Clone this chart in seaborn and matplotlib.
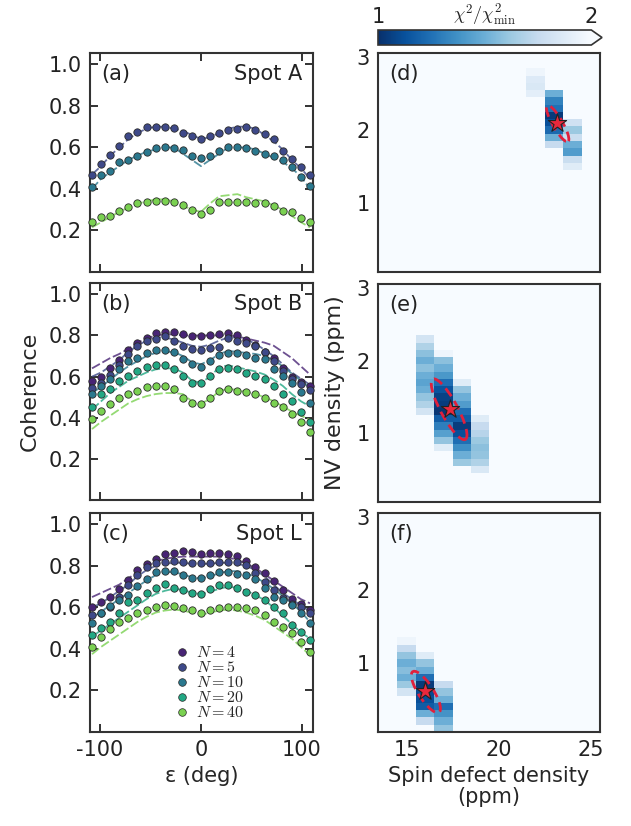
import numpy as np
import pandas as pd
import matplotlib
import matplotlib.pyplot as plt
import matplotlib.transforms as transforms
from matplotlib.patches import Ellipse
from matplotlib.lines import Line2D
import seaborn as sns

# ---- datos: coherencia vs angulo ----
eps = [-108, -99, -90, -81, -72, -63, -54, -45, -36, -27, -18, -9, 0,
       9, 18, 27, 36, 45, 54, 63, 72, 81, 90, 99, 108]
n_labels = [4, 5, 10, 20, 40]

# Spot A (N=5, 10, 40)
a_n5_pts = [0.469, 0.52, 0.563, 0.605, 0.656, 0.675, 0.699, 0.699, 0.699, 0.693, 0.672, 0.656, 0.643,
            0.656, 0.672, 0.685, 0.688, 0.70, 0.685, 0.667, 0.64, 0.582, 0.544, 0.507, 0.467]
a_n5_fit = [0.47, 0.51, 0.56, 0.60, 0.64, 0.67, 0.69, 0.70, 0.70, 0.69, 0.68, 0.66, 0.64,
            0.65, 0.67, 0.69, 0.70, 0.70, 0.69, 0.66, 0.63, 0.59, 0.54, 0.50, 0.45]
a_n10_pts = [0.408, 0.467, 0.485, 0.531, 0.541, 0.56, 0.579, 0.597, 0.60, 0.597, 0.589, 0.557, 0.547,
             0.56, 0.584, 0.60, 0.603, 0.597, 0.581, 0.568, 0.557, 0.541, 0.504, 0.459, 0.416]
a_n10_fit = [0.40, 0.45, 0.48, 0.51, 0.54, 0.56, 0.58, 0.59, 0.60, 0.60, 0.57, 0.54, 0.51,
             0.54, 0.57, 0.60, 0.60, 0.60, 0.59, 0.57, 0.55, 0.53, 0.50, 0.46, 0.40]
a_n40_pts = [0.243, 0.264, 0.272, 0.296, 0.315, 0.331, 0.339, 0.344, 0.341, 0.336, 0.325, 0.299, 0.28,
             0.30, 0.336, 0.339, 0.336, 0.336, 0.333, 0.333, 0.32, 0.296, 0.288, 0.259, 0.24]
a_n40_fit = [0.215, 0.24, 0.265, 0.29, 0.31, 0.33, 0.34, 0.35, 0.35, 0.34, 0.32, 0.30, 0.29,
             0.33, 0.365, 0.37, 0.375, 0.36, 0.35, 0.34, 0.32, 0.30, 0.27, 0.24, 0.215]

# Spot B
b_n4_pts = [0.58, 0.60, 0.64, 0.68, 0.73, 0.765, 0.79, 0.81, 0.815, 0.815, 0.805, 0.797, 0.797,
            0.80, 0.805, 0.81, 0.80, 0.78, 0.755, 0.72, 0.69, 0.64, 0.60, 0.575, 0.555]
b_n4_fit = [0.64, 0.665, 0.69, 0.71, 0.735, 0.765, 0.785, 0.80, 0.805, 0.805, 0.80, 0.80, 0.80,
            0.80, 0.80, 0.80, 0.795, 0.785, 0.775, 0.765, 0.75, 0.72, 0.69, 0.65, 0.61]
b_n5_pts = [0.545, 0.57, 0.61, 0.655, 0.71, 0.75, 0.775, 0.785, 0.795, 0.775, 0.75, 0.735, 0.73,
            0.74, 0.745, 0.79, 0.775, 0.765, 0.75, 0.72, 0.675, 0.625, 0.59, 0.565, 0.535]
b_n5_fit = [0.60, 0.62, 0.65, 0.68, 0.72, 0.75, 0.775, 0.79, 0.79, 0.78, 0.765, 0.75, 0.745,
            0.755, 0.775, 0.79, 0.79, 0.78, 0.76, 0.73, 0.70, 0.66, 0.62, 0.59, 0.56]
b_n10_pts = [0.515, 0.555, 0.587, 0.636, 0.676, 0.692, 0.713, 0.727, 0.729, 0.719, 0.684, 0.66, 0.648,
             0.676, 0.703, 0.716, 0.713, 0.703, 0.692, 0.684, 0.636, 0.603, 0.571, 0.523, 0.474]
b_n10_fit = [0.52, 0.55, 0.585, 0.62, 0.65, 0.675, 0.70, 0.715, 0.72, 0.72, 0.70, 0.67, 0.66,
             0.68, 0.71, 0.725, 0.72, 0.715, 0.71, 0.70, 0.68, 0.65, 0.615, 0.58, 0.545]
b_n20_pts = [0.45, 0.515, 0.539, 0.579, 0.603, 0.627, 0.648, 0.655, 0.655, 0.639, 0.603, 0.568, 0.571,
             0.603, 0.636, 0.644, 0.636, 0.619, 0.603, 0.587, 0.555, 0.515, 0.482, 0.426, 0.377]
b_n20_fit = [0.44, 0.48, 0.52, 0.55, 0.58, 0.60, 0.62, 0.635, 0.64, 0.64, 0.62, 0.58, 0.57,
             0.60, 0.645, 0.655, 0.645, 0.635, 0.625, 0.61, 0.585, 0.555, 0.515, 0.48, 0.455]
b_n40_pts = [0.394, 0.434, 0.466, 0.498, 0.515, 0.531, 0.547, 0.555, 0.555, 0.539, 0.498, 0.474, 0.466,
             0.498, 0.531, 0.539, 0.531, 0.523, 0.515, 0.498, 0.474, 0.45, 0.418, 0.377, 0.329]
b_n40_fit = [0.345, 0.38, 0.41, 0.44, 0.47, 0.49, 0.505, 0.515, 0.52, 0.52, 0.515, 0.48, 0.47,
             0.49, 0.53, 0.54, 0.535, 0.525, 0.515, 0.50, 0.48, 0.455, 0.43, 0.41, 0.39]

# Spot L
c_n4_pts = [0.603, 0.627, 0.651, 0.691, 0.731, 0.779, 0.811, 0.835, 0.859, 0.864, 0.870, 0.867, 0.859,
            0.864, 0.864, 0.856, 0.850, 0.824, 0.795, 0.766, 0.726, 0.683, 0.643, 0.616, 0.590]
c_n4_fit = [0.65, 0.67, 0.69, 0.71, 0.74, 0.77, 0.80, 0.82, 0.835, 0.84, 0.845, 0.845, 0.845,
            0.845, 0.845, 0.84, 0.83, 0.81, 0.79, 0.76, 0.73, 0.70, 0.67, 0.64, 0.62]
c_n5_pts = [0.563, 0.574, 0.603, 0.651, 0.707, 0.755, 0.795, 0.816, 0.819, 0.822, 0.819, 0.816, 0.814,
            0.816, 0.819, 0.819, 0.819, 0.803, 0.766, 0.723, 0.683, 0.646, 0.616, 0.603, 0.571]
c_n5_fit = [0.60, 0.62, 0.65, 0.68, 0.71, 0.75, 0.78, 0.80, 0.81, 0.815, 0.815, 0.81, 0.81,
            0.81, 0.815, 0.815, 0.81, 0.80, 0.78, 0.75, 0.71, 0.67, 0.64, 0.61, 0.58]
c_n10_pts = [0.523, 0.571, 0.606, 0.635, 0.659, 0.704, 0.736, 0.771, 0.776, 0.774, 0.755, 0.744, 0.742,
             0.755, 0.771, 0.771, 0.763, 0.755, 0.739, 0.694, 0.651, 0.635, 0.611, 0.571, 0.526]
c_n10_fit = [0.55, 0.58, 0.61, 0.64, 0.67, 0.70, 0.73, 0.755, 0.77, 0.77, 0.76, 0.745, 0.74,
             0.75, 0.765, 0.775, 0.775, 0.765, 0.745, 0.72, 0.69, 0.655, 0.62, 0.58, 0.53]
c_n20_pts = [0.467, 0.499, 0.531, 0.571, 0.627, 0.635, 0.672, 0.696, 0.712, 0.696, 0.683, 0.670, 0.667,
             0.691, 0.707, 0.707, 0.696, 0.675, 0.659, 0.638, 0.603, 0.571, 0.515, 0.483, 0.443]
c_n20_fit = [0.46, 0.49, 0.52, 0.55, 0.58, 0.61, 0.64, 0.665, 0.68, 0.69, 0.685, 0.67, 0.665,
             0.675, 0.69, 0.70, 0.695, 0.68, 0.66, 0.635, 0.60, 0.56, 0.52, 0.48, 0.45]
c_n40_pts = [0.411, 0.459, 0.494, 0.531, 0.547, 0.574, 0.587, 0.603, 0.611, 0.606, 0.595, 0.587, 0.571,
             0.587, 0.595, 0.603, 0.600, 0.595, 0.587, 0.563, 0.531, 0.507, 0.475, 0.435, 0.387]
c_n40_fit = [0.375, 0.41, 0.44, 0.47, 0.50, 0.53, 0.555, 0.575, 0.585, 0.59, 0.585, 0.575, 0.565,
             0.575, 0.585, 0.59, 0.585, 0.575, 0.56, 0.54, 0.51, 0.48, 0.45, 0.41, 0.37]

# ---- datos: mapas chi^2 (celdas no saturadas) ----
grid_x = [14, 15, 16, 17, 18, 19, 20, 21, 22, 23, 24, 25]
grid_y = [0.1, 0.2, 0.3, 0.4, 0.5, 0.6, 0.7, 0.8, 0.9, 1.0, 1.1, 1.2, 1.3, 1.4, 1.5,
          1.6, 1.7, 1.8, 1.9, 2.0, 2.1, 2.2, 2.3, 2.4, 2.5, 2.6, 2.7, 2.8, 2.9, 3.0]

d_x = [22, 22, 22, 22,
       23, 23, 23, 23, 23, 23, 23, 23,
       24, 24, 24, 24, 24, 24, 24]
d_y = [2.8, 2.7, 2.6, 2.5,
       2.5, 2.4, 2.3, 2.2, 2.1, 2.0, 1.9, 1.8,
       2.1, 2.0, 1.9, 1.8, 1.7, 1.6, 1.5]
d_val = [1.95, 1.87, 1.85, 1.9,
         1.5, 1.32, 1.25, 1.04, 1.12, 1.22, 1.5, 1.75,
         1.8, 1.62, 1.77, 1.5, 1.42, 1.77, 1.88]

e_x = [16] * 11 + [17] * 14 + [18] * 12 + [19] * 8
e_y = [2.3, 2.2, 2.1, 2.0, 1.9, 1.8, 1.7, 1.6, 1.5, 1.4, 1.3,
       2.1, 2.0, 1.9, 1.8, 1.7, 1.6, 1.5, 1.4, 1.3, 1.2, 1.1, 1.0, 0.9, 0.8,
       1.7, 1.6, 1.5, 1.4, 1.3, 1.2, 1.1, 1.0, 0.9, 0.8, 0.7, 0.6,
       1.2, 1.1, 1.0, 0.9, 0.8, 0.7, 0.6, 0.5]
e_val = [1.82, 1.68, 1.58, 1.5, 1.58, 1.5, 1.45, 1.5, 1.6, 1.68, 1.82,
         1.95, 1.58, 1.5, 1.4, 1.24, 1.14, 1.07, 1.05, 1.02, 1.17, 1.3, 1.44, 1.6, 1.88,
         1.88, 1.6, 1.5, 1.42, 1.24, 1.17, 1.05, 1.12, 1.24, 1.36, 1.5, 1.62,
         1.88, 1.75, 1.7, 1.62, 1.58, 1.6, 1.68, 1.85]

f_x = [15] * 8 + [16] * 10 + [17] * 7
f_y = [1.3, 1.2, 1.1, 1.0, 0.9, 0.8, 0.7, 0.6,
       1.1, 1.0, 0.9, 0.8, 0.7, 0.6, 0.5, 0.4, 0.3, 0.2,
       0.7, 0.6, 0.5, 0.4, 0.3, 0.2, 0.1]
f_val = [1.95, 1.75, 1.6, 1.5, 1.57, 1.5, 1.62, 1.82,
         1.88, 1.6, 1.5, 1.24, 1.04, 1.1, 1.12, 1.17, 1.5, 1.75,
         1.75, 1.6, 1.5, 1.24, 1.38, 1.5, 1.6]

# mejor ajuste (estrella) y elipse de confianza: centro, sigma_x, sigma_y, rho
best_x = [23.14, 17.34, 16.02]
best_y = [2.10, 1.34, 0.61]
ell_cx = [23.2, 17.31, 16.05]
ell_cy = [2.09, 1.33, 0.60]
ell_sx = [0.61, 0.97, 0.79]
ell_sy = [0.25, 0.42, 0.285]
ell_rho = [-0.86, -0.845, -0.8]

# ---- estilo ----
sns.set_theme(style='ticks')
plt.rcParams['font.family'] = ['DejaVu Sans']
plt.rcParams['mathtext.fontset'] = 'cm'
plt.rcParams['axes.edgecolor'] = '#333333'
plt.rcParams['axes.linewidth'] = 1.5

pal = sns.color_palette('viridis', as_cmap=True)
colores = {n: pal(v) for n, v in zip(n_labels, [0.1, 0.22, 0.4, 0.6, 0.8])}

W, H = 631, 826
fig = plt.figure(figsize=(W / 100, H / 100), dpi=100)


def caja(x0, y0, x1, y1):
    return [x0 / W, 1 - y1 / H, (x1 - x0) / W, (y1 - y0) / H]


ax_a = fig.add_axes(caja(90, 53, 313, 272))
ax_b = fig.add_axes(caja(90, 283, 313, 500))
ax_c = fig.add_axes(caja(90, 513, 313, 732))
ax_d = fig.add_axes(caja(378, 53, 600, 272))
ax_e = fig.add_axes(caja(378, 284, 600, 502))
ax_f = fig.add_axes(caja(378, 513, 600, 732))
cax = fig.add_axes(caja(378, 30, 602, 45))


def estilo_ejes(ax):
    ax.tick_params(direction='in', top=True, right=True, length=6, width=1.3,
                   labelsize=15, pad=6, colors='#222222')
    for s in ax.spines.values():
        s.set_visible(True)
        s.set_color('#333333')
        s.set_linewidth(1.5)


def dibujar_spot(ax, series, letra, nombre):
    for n, pts, fit in series:
        col = colores[n]
        sns.lineplot(x=eps, y=fit, ax=ax, color=col, alpha=0.8, lw=1.3,
                     linestyle=(0, (5, 1.6)), legend=False)
        sns.scatterplot(x=eps, y=pts, ax=ax, color=col, s=28, edgecolor='#2a2a2a',
                        linewidth=0.6, legend=False, zorder=3, clip_on=False)
    ax.set_xlim(-110, 111)
    ax.set_ylim(0, 1.055)
    ax.set_xticks([-100, 0, 100])
    ax.set_yticks([0.2, 0.4, 0.6, 0.8, 1.0])
    ax.set_yticklabels(['0.2', '0.4', '0.6', '0.8', '1.0'])
    estilo_ejes(ax)
    ax.text(0.05, 0.95, letra, transform=ax.transAxes, fontsize=15, va='top', ha='left', color='#222222')
    ax.text(0.95, 0.95, nombre, transform=ax.transAxes, fontsize=15, va='top', ha='right', color='#222222')


dibujar_spot(ax_a, [(5, a_n5_pts, a_n5_fit), (10, a_n10_pts, a_n10_fit), (40, a_n40_pts, a_n40_fit)],
             '(a)', 'Spot A')
dibujar_spot(ax_b, [(4, b_n4_pts, b_n4_fit), (5, b_n5_pts, b_n5_fit), (10, b_n10_pts, b_n10_fit),
                    (20, b_n20_pts, b_n20_fit), (40, b_n40_pts, b_n40_fit)], '(b)', 'Spot B')
dibujar_spot(ax_c, [(4, c_n4_pts, c_n4_fit), (5, c_n5_pts, c_n5_fit), (10, c_n10_pts, c_n10_fit),
                    (20, c_n20_pts, c_n20_fit), (40, c_n40_pts, c_n40_fit)], '(c)', 'Spot L')
ax_a.set_xticklabels([])
ax_b.set_xticklabels([])
ax_b.set_ylabel('Coherence', fontsize=16, labelpad=6)
ax_c.set_xticklabels(['-100', '0', '100'])
ax_c.set_xlabel('ε (deg)', fontsize=15, labelpad=4)

handles = [Line2D([], [], ls='', marker='o', ms=5.5, color=colores[n], mec='#2a2a2a', mew=0.5)
           for n in n_labels]
ax_c.legend(handles, [f'$N = {n}$' for n in n_labels], loc='center', bbox_to_anchor=(0.53, 0.225),
            frameon=False, fontsize=11.5, labelspacing=0.0, handletextpad=0.3, handlelength=1.2,
            borderpad=0)

# ---- mapas ----
cmap = sns.color_palette('Blues_r', as_cmap=True).copy()
cmap.set_over(cmap(1.0))
x_edges = np.array(grid_x, dtype=float) - 0.5
x_edges = np.append(x_edges, grid_x[-1] + 0.5)
y_edges = np.array(grid_y) - 0.05
y_edges = np.append(y_edges, grid_y[-1] + 0.05)

mesh = None
for i, (ax, cx, cy, cv, letra) in enumerate([(ax_d, d_x, d_y, d_val, '(d)'),
                                              (ax_e, e_x, e_y, e_val, '(e)'),
                                              (ax_f, f_x, f_y, f_val, '(f)')]):
    tabla = pd.DataFrame({'x': cx, 'y': cy, 'v': cv})
    mapa = tabla.pivot_table(index='y', columns='x', values='v')
    mapa = mapa.reindex(index=grid_y, columns=grid_x)
    # celdas saturadas (chi2 >= 2 chi2_min)
    z = mapa.fillna(2.5).to_numpy()
    mesh = ax.pcolormesh(x_edges, y_edges, z, cmap=cmap, vmin=1, vmax=2, shading='flat')

    # elipse de confianza
    elip = Ellipse((0, 0), width=2 * np.sqrt(1 + ell_rho[i]), height=2 * np.sqrt(1 - ell_rho[i]),
                   facecolor='none', edgecolor='#e0203c', lw=2, linestyle=(0, (3.5, 2)), zorder=4)
    tr = transforms.Affine2D().rotate_deg(45).scale(ell_sx[i], ell_sy[i]).translate(ell_cx[i], ell_cy[i])
    elip.set_transform(tr + ax.transData)
    ax.add_patch(elip)
    sns.scatterplot(x=[best_x[i]], y=[best_y[i]], ax=ax, marker='*', s=190, color='#e8283c',
                    edgecolor='#222222', linewidth=0.8, zorder=5, legend=False)

    ax.set_xlim(13.45, 25.5)
    ax.set_ylim(0.05, 3.06)
    ax.set_xticks([15, 20, 25])
    ax.set_yticks([1, 2, 3])
    estilo_ejes(ax)
    ax.text(0.05, 0.95, letra, transform=ax.transAxes, fontsize=15, va='top', ha='left', color='#222222')

ax_d.set_xticklabels([])
ax_e.set_xticklabels([])
ax_e.set_ylabel('NV density (ppm)', fontsize=16, labelpad=8)
ax_f.set_xlabel('Spin defect density\n(ppm)', fontsize=15, labelpad=4, linespacing=1.1)

cb = fig.colorbar(mesh, cax=cax, orientation='horizontal', extend='max', extendfrac=0.05, ticks=[1, 2])
cb.outline.set_edgecolor('#333333')
cb.outline.set_linewidth(1.2)
cax.xaxis.set_ticks_position('top')
cax.tick_params(length=0, labelsize=15, pad=2, colors='#222222')
cax.set_xticklabels(['1', '2'])
cax.text(0.5, 1.12, r'$\chi^2/\chi^2_{\rm min}$', transform=cax.transAxes, ha='center', va='bottom',
         fontsize=13, color='#222222')

fig.savefig('out.png', dpi=100)
plt.close(fig)
